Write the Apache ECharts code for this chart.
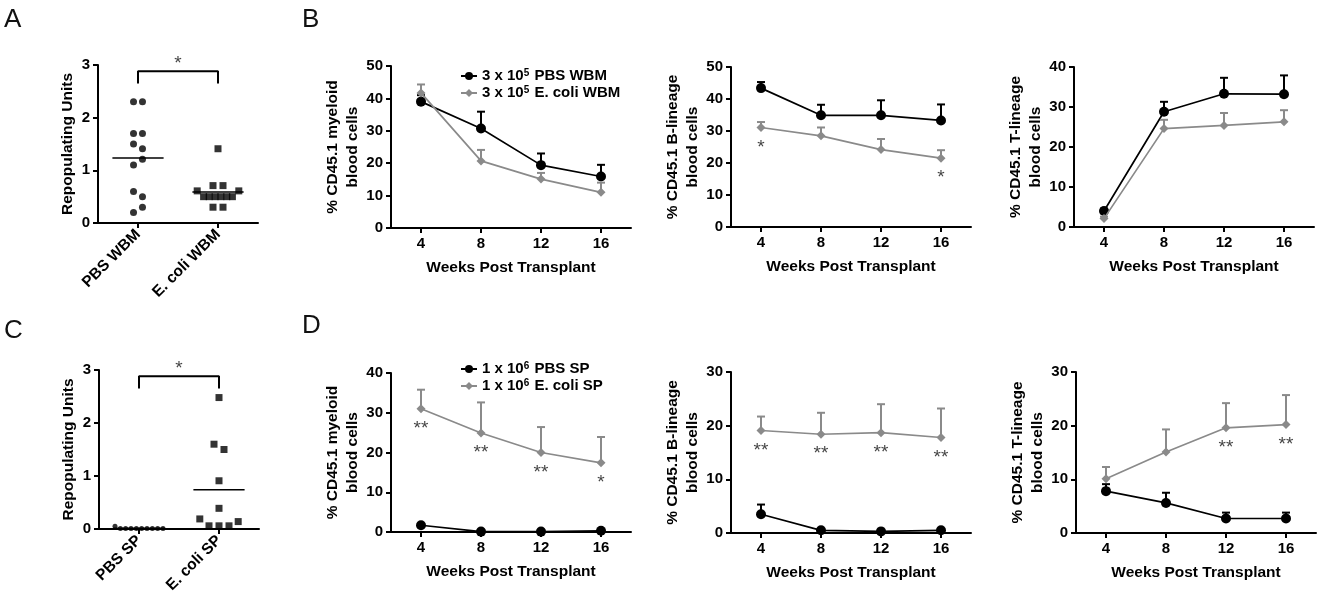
<!DOCTYPE html>
<html>
<head>
<meta charset="utf-8">
<script src="https://cdn.jsdelivr.net/npm/echarts@6.0.0/dist/echarts.min.js"></script>
<style>
  html, body { margin: 0; background: #fff; }
  #main { width: 1325px; height: 607px; }
</style>
</head>
<body>
<div id="main"></div>
<script>
// ---- data ----
var weeks = ["4", "8", "12", "16"];

// panel A: repopulating units, whole bone marrow
var wbmGroups = ["PBS WBM", "E. coli WBM"];
var pbsWbm = [2.3, 2.3, 1.7, 1.7, 1.5, 1.41, 1.21, 1.1, 0.6, 0.5, 0.3, 0.2];
var pbsWbmJitter = [-0.056, 0.056, -0.056, 0.056, -0.056, 0.056, 0.056, -0.056, -0.056, 0.056, 0.056, -0.056];
var ecoliWbm = [1.41, 0.71, 0.71, 0.61, 0.61, 0.5, 0.5, 0.5, 0.5, 0.5, 0.5, 0.3, 0.3];
var ecoliWbmJitter = [0, -0.0625, 0.0625, -0.26, 0.26, -0.18, -0.11, -0.036, 0.036, 0.11, 0.18, -0.0625, 0.0625];

// panel C: repopulating units, spleen
var spGroups = ["PBS SP", "E. coli SP"];
var pbsSp = [0.05, 0.01, 0.01, 0.01, 0.01, 0.01, 0.01, 0.01, 0.01, 0.01];
var pbsSpJitter = [-0.3, -0.233, -0.167, -0.1, -0.033, 0.033, 0.1, 0.167, 0.233, 0.3];
var ecoliSp = [2.48, 1.6, 1.5, 0.91, 0.39, 0.19, 0.06, 0.06, 0.06, 0.14];
var ecoliSpJitter = [0, -0.0625, 0.0625, 0, 0, -0.24, -0.125, 0, 0.125, 0.24];

// panel B: WBM donors, mean and SEM
var bMyeloidPbs = [39.0, 30.7, 19.4, 15.9];
var bMyeloidPbsSem = [2.0, 5.2, 3.6, 3.6];
var bMyeloidEcoli = [41.7, 20.7, 15.1, 11.0];
var bMyeloidEcoliSem = [2.6, 3.4, 1.9, 3.0];
var bMyeloidStars = ["", "", "", ""];

var bBcellPbs = [43.4, 34.9, 34.9, 33.3];
var bBcellPbsSem = [1.9, 3.3, 4.7, 5.0];
var bBcellEcoli = [31.1, 28.5, 24.2, 21.5];
var bBcellEcoliSem = [1.7, 2.6, 3.3, 2.5];
var bBcellStars = ["*", "", "", "*"];

var bTcellPbs = [4.0, 28.8, 33.3, 33.2];
var bTcellPbsSem = [0.6, 2.5, 4.0, 4.7];
var bTcellEcoli = [2.1, 24.6, 25.4, 26.3];
var bTcellEcoliSem = [0.5, 2.2, 3.1, 2.9];
var bTcellStars = ["", "", "", ""];

// panel D: spleen donors, mean and SEM
var dMyeloidPbs = [1.7, 0.1, 0.1, 0.3];
var dMyeloidPbsSem = [0.3, 0.1, 0.1, 0.1];
var dMyeloidEcoli = [31.0, 24.9, 20.0, 17.4];
var dMyeloidEcoliSem = [4.8, 7.7, 6.4, 6.5];
var dMyeloidStars = ["**", "**", "**", "*"];

var dBcellPbs = [3.5, 0.5, 0.3, 0.5];
var dBcellPbsSem = [1.8, 0.2, 0.1, 0.2];
var dBcellEcoli = [19.1, 18.4, 18.7, 17.8];
var dBcellEcoliSem = [2.6, 4.0, 5.3, 5.4];
var dBcellStars = ["**", "**", "**", "**"];

var dTcellPbs = [7.8, 5.6, 2.7, 2.7];
var dTcellPbsSem = [1.3, 1.9, 1.1, 1.1];
var dTcellEcoli = [10.1, 15.1, 19.6, 20.2];
var dTcellEcoliSem = [2.2, 4.2, 4.6, 5.5];
var dTcellStars = ["", "", "**", "**"];

var bNames = ["3 x 10^5 PBS WBM", "3 x 10^5 E. coli WBM"];
var dNames = ["1 x 10^6 PBS SP", "1 x 10^6 E. coli SP"];

// ---- chart ----
var FONT = "'Liberation Sans', Arial, sans-serif";
var BLACK = "#000";
var GRAY = "#8a8a8a";

var grids = [], xAxes = [], yAxes = [], series = [];

function axisCommon() {
  return {
    axisLine: { show: true, onZero: false, lineStyle: { color: BLACK, width: 2 } },
    axisTick: { show: true, length: 5, alignWithLabel: true, lineStyle: { color: BLACK, width: 2 } },
    axisLabel: { color: BLACK, fontSize: 15, fontWeight: "bold", fontFamily: FONT },
    splitLine: { show: false },
    nameTextStyle: { color: BLACK, fontSize: 15.5, fontWeight: "bold", fontFamily: FONT, lineHeight: 20 },
  };
}

function errorBars(xi, yi, means, sems, color, z) {
  return {
    type: "custom",
    xAxisIndex: xi,
    yAxisIndex: yi,
    z: z,
    silent: true,
    data: means.map(function (m, i) { return [i, m, m + sems[i]]; }),
    renderItem: function (params, api) {
      var base = api.coord([api.value(0), api.value(1)]);
      var top = api.coord([api.value(0), api.value(2)]);
      var st = { stroke: color, lineWidth: 2 };
      return {
        type: "group",
        children: [
          { type: "line", shape: { x1: base[0], y1: base[1], x2: top[0], y2: top[1] }, style: st },
          { type: "line", shape: { x1: top[0] - 4, y1: top[1], x2: top[0] + 4, y2: top[1] }, style: st },
        ],
      };
    },
  };
}

function linePanel(box, yMax, yName, pbs, pbsSem, ecoli, ecoliSem, stars, names) {
  var gi = grids.length;
  grids.push({ left: box[0], top: box[1], width: box[2], height: box[3], outerBoundsMode: "none" });
  var xa = axisCommon();
  xa.gridIndex = gi;
  xa.type = "category";
  xa.data = weeks;
  xa.boundaryGap = true;
  xa.name = "Weeks Post Transplant";
  xa.nameLocation = "middle";
  xa.nameGap = 30;
  xAxes.push(xa);
  var ya = axisCommon();
  ya.gridIndex = gi;
  ya.type = "value";
  ya.min = 0;
  ya.max = yMax;
  ya.interval = 10;
  ya.name = yName;
  ya.nameLocation = "middle";
  ya.nameRotate = 90;
  ya.nameGap = 28;
  yAxes.push(ya);
  var xi = xAxes.length - 1, yi = yAxes.length - 1;
  series.push({
    name: names[0], type: "line", xAxisIndex: xi, yAxisIndex: yi, data: pbs, z: 3,
    symbol: "circle", symbolSize: 10,
    lineStyle: { color: BLACK, width: 1.7 }, itemStyle: { color: BLACK },
  });
  series.push(errorBars(xi, yi, pbs, pbsSem, BLACK, 2));
  series.push({
    name: names[1], type: "line", xAxisIndex: xi, yAxisIndex: yi, data: ecoli, z: 5,
    symbol: "diamond", symbolSize: 9,
    lineStyle: { color: GRAY, width: 1.7 }, itemStyle: { color: GRAY },
  });
  series.push(errorBars(xi, yi, ecoli, ecoliSem, GRAY, 4));
  series.push({
    type: "scatter", xAxisIndex: xi, yAxisIndex: yi, data: ecoli, symbolSize: 0, silent: true,
    label: {
      show: true, position: "inside", offset: [0, 20], color: "#111", fontSize: 19, fontFamily: FONT,
      formatter: function (p) { return stars[p.dataIndex]; },
    },
  });
}

function dotPanel(box, groups, pbs, pbsJit, ecoli, ecoliJit, dotSize) {
  var gi = grids.length;
  grids.push({ left: box[0], top: box[1], width: box[2], height: box[3], outerBoundsMode: "none" });
  var xa = axisCommon();
  xa.gridIndex = gi;
  xa.type = "category";
  xa.data = groups;
  xa.boundaryGap = true;
  xa.axisLabel.rotate = 45;
  xa.axisLabel.margin = 9;
  xa.axisLabel.fontSize = 15.5;
  xAxes.push(xa);
  xAxes.push({ gridIndex: gi, type: "value", min: 0.5, max: 2.5, show: false });
  var xi = xAxes.length - 1;
  var ya = axisCommon();
  ya.gridIndex = gi;
  ya.type = "value";
  ya.min = 0;
  ya.max = 3;
  ya.interval = 1;
  ya.name = "Repopulating Units";
  ya.nameLocation = "middle";
  ya.nameRotate = 90;
  ya.nameGap = 18;
  yAxes.push(ya);
  var yi = yAxes.length - 1;
  var mean = function (a) { return a.reduce(function (s, v) { return s + v; }, 0) / a.length; };
  series.push({
    type: "scatter", xAxisIndex: xi, yAxisIndex: yi, symbol: "circle", symbolSize: dotSize,
    itemStyle: { color: BLACK },
    data: pbs.map(function (v, i) { return [1 + pbsJit[i], v]; }),
  });
  series.push({
    type: "scatter", xAxisIndex: xi, yAxisIndex: yi, symbol: "rect", symbolSize: 7,
    itemStyle: { color: BLACK },
    data: ecoli.map(function (v, i) { return [2 + ecoliJit[i], v]; }),
  });
  [[1, mean(pbs)], [2, mean(ecoli)]].forEach(function (m) {
    series.push({
      type: "line", xAxisIndex: xi, yAxisIndex: yi, symbol: "none", silent: true,
      lineStyle: { color: BLACK, width: 1.5 },
      data: [[m[0] - 0.32, m[1]], [m[0] + 0.32, m[1]]],
    });
  });
  // significance bracket
  series.push({
    type: "line", xAxisIndex: xi, yAxisIndex: yi, symbol: "none", silent: true,
    lineStyle: { color: BLACK, width: 2 },
    data: [[1, 2.65], [1, 2.88], [2, 2.88], [2, 2.65]],
  });
  series.push({
    type: "scatter", xAxisIndex: xi, yAxisIndex: yi, symbolSize: 0, silent: true,
    data: [[1.5, 2.88]],
    label: { show: true, position: "top", distance: -2, formatter: "*", color: "#111", fontSize: 19, fontFamily: FONT },
  });
}

dotPanel([98, 65, 160, 158], wbmGroups, pbsWbm, pbsWbmJitter, ecoliWbm, ecoliWbmJitter, 7);
dotPanel([99, 370, 160, 159], spGroups, pbsSp, pbsSpJitter, ecoliSp, ecoliSpJitter, 5);

linePanel([391, 66, 240, 162], 50, "% CD45.1 myeloid\nblood cells",
  bMyeloidPbs, bMyeloidPbsSem, bMyeloidEcoli, bMyeloidEcoliSem, bMyeloidStars, bNames);
linePanel([731, 67, 240, 160], 50, "% CD45.1 B-lineage\nblood cells",
  bBcellPbs, bBcellPbsSem, bBcellEcoli, bBcellEcoliSem, bBcellStars, bNames);
linePanel([1074, 67, 240, 160], 40, "% CD45.1 T-lineage\nblood cells",
  bTcellPbs, bTcellPbsSem, bTcellEcoli, bTcellEcoliSem, bTcellStars, bNames);
linePanel([391, 373, 240, 159], 40, "% CD45.1 myeloid\nblood cells",
  dMyeloidPbs, dMyeloidPbsSem, dMyeloidEcoli, dMyeloidEcoliSem, dMyeloidStars, dNames);
linePanel([731, 372, 240, 161], 30, "% CD45.1 B-lineage\nblood cells",
  dBcellPbs, dBcellPbsSem, dBcellEcoli, dBcellEcoliSem, dBcellStars, dNames);
linePanel([1076, 372, 240, 161], 30, "% CD45.1 T-lineage\nblood cells",
  dTcellPbs, dTcellPbsSem, dTcellEcoli, dTcellEcoliSem, dTcellStars, dNames);

function legendFor(names, left, top) {
  return {
    data: names, left: left, top: top, orient: "vertical", itemGap: 1,
    itemWidth: 16, itemHeight: 10, selectedMode: false,
    textStyle: {
      color: BLACK, fontSize: 15, fontWeight: "bold", fontFamily: FONT,
      rich: {
        n: { fontSize: 15, fontWeight: "bold", fontFamily: FONT, color: BLACK, lineHeight: 16 },
        sup: { fontSize: 10, fontWeight: "bold", fontFamily: FONT, color: BLACK, verticalAlign: "top", lineHeight: 10, padding: [0, 1, 6, 0] },
      },
    },
    formatter: function (name) {
      var parts = name.split("^");
      return "{n|" + parts[0] + "}{sup|" + parts[1].charAt(0) + "}{n|" + parts[1].slice(1) + "}";
    },
  };
}

function letter(t, x, y) {
  return { type: "text", left: x, top: y, style: { text: t, fontSize: 26, fontFamily: FONT, fill: "#111" } };
}

var chart = echarts.init(document.getElementById("main"));
chart.setOption({
  animation: false,
  backgroundColor: "#fff",
  grid: grids,
  xAxis: xAxes,
  yAxis: yAxes,
  legend: [legendFor(bNames, 455, 63), legendFor(dNames, 455, 356)],
  graphic: [letter("A", 4, 7), letter("B", 302, 7), letter("C", 4, 318), letter("D", 302, 313)],
  series: series,
});
</script>
</body>
</html>
